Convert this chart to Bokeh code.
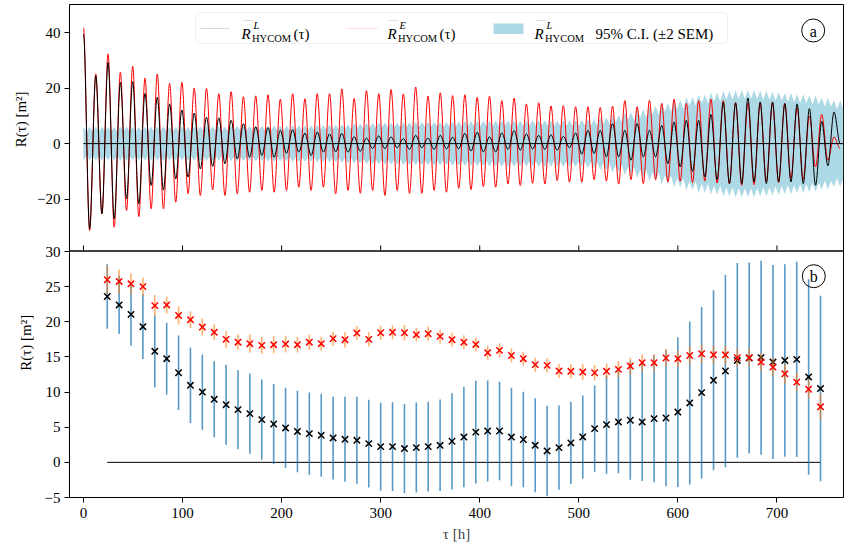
import math
import numpy as np
from bokeh.plotting import figure
from bokeh.layouts import row
from bokeh.models import (Range1d, BoxAnnotation, Label, CustomJSTickFormatter,
                          FixedTicker, Span)
from bokeh.embed import file_html
from bokeh.resources import INLINE

FONT = "Liberation Serif"

# ---------------- panel (a): extrema of the autocorrelation curves ----------------
M2_HALF = 6.21  # hours between successive extrema (half of the M2 tidal period)

red_peaks = [41.7, 25.1, 32.3, 25.7, 27.9, 23.6, 25.1, 21.7, 22.1, 20.0,
             19.9, 18.0, 18.7, 16.9, 17.2, 17.6, 16.0, 18.0, 16.2, 18.0,
             18.0, 19.7, 16.3, 19.1, 18.0, 19.5, 17.9, 20.4, 17.1, 18.3,
             17.3, 17.6, 16.7, 17.1, 15.5, 16.4, 14.3, 14.7, 13.6, 13.7,
             13.3, 13.3, 13.0, 13.5, 15.5, 13.3, 15.6, 14.5, 16.0, 14.5,
             15.5, 16.0, 15.5, 14.7, 14.6, 14.7, 14.7, 14.5, 13.0, 10.0,
             10.5, 2.4]
red_troughs = [-31.3, -25.3, -30.1, -24.1, -26.3, -23.5, -23.5, -21.1, -18.1, -18.7,
               -16.7, -18.7, -18.1, -17.5, -16.9, -17.5, -16.9, -15.7, -16.9, -15.7,
               -18.1, -16.9, -17.9, -16.9, -18.7, -16.9, -17.9, -17.9, -16.9, -17.5,
               -16.1, -16.6, -15.5, -15.7, -14.5, -15.1, -14.3, -14.5, -13.3, -13.9,
               -13.9, -13.0, -13.5, -14.6, -13.0, -14.4, -13.0, -13.8, -13.5, -14.0,
               -13.5, -14.2, -14.5, -15.0, -14.8, -13.5, -14.0, -12.5, -13.0, -8.4,
               -6.0, -1.8]
black_peaks = [39.5, 24.5, 29.2, 22.1, 22.3, 18.1, 16.7, 14.3, 12.1, 11.0,
               9.5, 9.3, 8.4, 7.2, 6.1, 5.8, 4.8, 5.0, 3.8, 4.2,
               3.5, 3.7, 2.5, 2.0, 2.8, 2.4, 1.8, 3.0, 2.0, 3.0,
               2.3, 3.7, 4.1, 2.5, 3.9, 4.7, 3.5, 3.0, 3.2, 2.6,
               3.8, 4.8, 4.8, 7.2, 4.8, 7.2, 4.8, 6.6, 7.8, 8.4,
               8.4, 10.5, 14.9, 14.7, 16.4, 15.0, 15.0, 14.4, 14.3, 12.6,
               8.0, 11.4]
black_troughs = [-30.7, -25.3, -27.1, -19.9, -21.7, -15.1, -16.7, -12.7, -12.1, -9.1,
                 -8.2, -7.3, -5.5, -4.9, -4.3, -4.9, -3.5, -3.1, -4.3, -3.1,
                 -3.0, -3.1, -2.8, -1.8, -1.8, -1.5, -2.1, -1.5, -2.1, -1.9,
                 -1.9, -2.7, -3.0, -3.0, -2.1, -2.4, -2.0, -2.1, -2.4, -1.5,
                 -3.8, -3.6, -4.8, -4.8, -6.0, -4.8, -4.8, -7.2, -8.4, -10.0,
                 -12.0, -13.0, -14.4, -14.4, -13.8, -14.4, -13.8, -13.8, -14.4, -15.0,
                 -8.0, 0.0]
# 95% C.I. half-width (+-2 SEM) at the extrema (bump) and between them (neck)
band_bump = [6.0, 6.1, 6.0, 6.2, 6.0, 6.1, 6.2, 6.0, 6.1, 6.2,
             6.3, 6.2, 6.4, 6.3, 6.4, 6.5, 6.4, 6.6, 6.5, 6.7,
             6.8, 7.0, 7.2, 7.4, 7.6, 7.6, 7.8, 7.8, 7.9, 7.8,
             8.0, 8.1, 8.2, 8.3, 8.4, 8.3, 8.4, 8.4, 8.3, 8.4,
             8.5, 8.8, 9.5, 10.3, 11.3, 12.4, 13.5, 14.6, 15.7, 16.8,
             17.7, 18.4, 19.0, 19.3, 19.3, 19.0, 18.6, 18.2, 17.8, 17.3,
             16.5, 15.5]
band_neck = [4.3, 4.4, 4.3, 4.5, 4.3, 4.4, 4.5, 4.3, 4.4, 4.5,
             4.6, 4.5, 4.7, 4.6, 4.7, 4.8, 4.7, 4.9, 4.8, 5.0,
             5.0, 5.2, 5.4, 5.6, 5.7, 5.8, 6.0, 6.0, 6.1, 6.0,
             6.1, 6.2, 6.3, 6.3, 6.4, 6.3, 6.4, 6.4, 6.3, 6.4,
             6.4, 6.6, 7.1, 7.7, 8.5, 9.4, 10.4, 11.4, 12.5, 13.6,
             14.5, 15.2, 15.8, 16.1, 16.1, 15.8, 15.4, 15.0, 14.6, 14.1,
             13.4, 12.5]

# ---------------- panel (b): binned values with error bars ----------------
lags = list(range(24, 745, 12))
black_mean = [23.6, 22.4, 21.05, 19.3, 15.8, 14.75, 12.75, 10.96, 10.0, 8.97,
              8.2, 7.5, 6.93, 6.08, 5.46, 4.9, 4.4, 4.09, 3.85, 3.47,
              3.28, 3.14, 2.67, 2.24, 2.24, 1.96, 2.1, 2.24, 2.43, 3.0,
              3.6, 4.3, 4.46, 4.46, 3.6, 3.25, 2.43, 1.62, 2.1, 2.76,
              3.62, 4.8, 5.37, 5.75, 5.99, 5.75, 6.22, 6.31, 7.16, 8.45,
              9.92, 11.67, 13.0, 14.5, 14.85, 14.9, 14.27, 14.5, 14.65, 12.15,
              10.5]
black_err = [4.6, 4.15, 4.45, 4.6, 5.1, 5.1, 5.3, 5.35, 5.35, 5.4,
             5.7, 5.65, 5.7, 5.7, 5.7, 5.7, 5.8, 5.85, 5.9, 5.9,
             6.05, 6.2, 6.25, 6.25, 6.3, 6.35, 6.4, 6.4, 6.5, 6.85,
             7.15, 7.3, 7.2, 7.0, 7.0, 6.8, 6.7, 6.45, 6.0, 5.85,
             5.9, 6.15, 7.0, 7.3, 8.45, 8.4, 9.05, 9.7, 10.65, 11.6,
             12.2, 12.8, 13.7, 13.85, 13.6, 13.8, 13.8, 13.7, 13.9, 13.9,
             13.2]
red_mean = [25.98, 25.74, 25.4, 25.0, 22.3, 22.4, 20.9, 20.3, 19.25, 18.5,
            17.5, 17.1, 16.88, 16.64, 16.74, 16.83, 16.74, 17.1, 16.88, 17.6,
            17.45, 18.4, 17.5, 18.44, 18.5, 18.44, 18.16, 18.3, 17.92, 17.45,
            17.1, 16.78, 15.6, 15.93, 15.2, 14.75, 13.9, 13.8, 13.0, 12.95,
            12.85, 12.75, 12.95, 13.23, 13.7, 14.18, 14.18, 14.85, 14.75, 15.2,
            15.45, 15.3, 15.3, 14.9, 14.9, 14.27, 13.56, 12.6, 11.42, 10.4,
            7.9]
red_err = [2.0, 1.7, 1.5, 1.3, 1.5, 1.2, 1.3, 1.2, 1.2,
           1.1, 1.2, 1.1, 1.3, 1.2, 1.2, 1.2, 1.1, 1.1,
           1.0, 1.0, 1.1, 1.0, 1.0, 1.0, 1.0, 1.1, 1.0,
           1.0, 1.0, 1.0, 1.0, 1.0, 1.0, 1.0, 1.0, 1.0,
           1.0, 1.0, 1.0, 1.0, 1.1, 1.1, 1.1, 1.2, 1.2,
           1.2, 1.2, 1.2, 1.2, 1.3, 1.3, 1.3, 1.3, 1.3,
           1.3, 1.3, 1.3, 1.4, 1.3, 1.3, 1.8]

x_ticks = [0, 100, 200, 300, 400, 500, 600, 700]
top_y_ticks = [-20, 0, 20, 40]
bot_y_ticks = [-5, 0, 5, 10, 15, 20, 25, 30]
y_title = "R(\u03c4) [m\u00b2]"
x_title = "\u03c4 [h]"

XLIM = (-14.1, 767.2)
TOP_YLIM = (-38.5, 50.1)
BOT_YLIM = (-5.0, 30.0)

# ---------------- geometry (canvas pixels) ----------------
W, H = 844, 545
TITLE_W = 34               # strip on the far left holding the two y titles
FRAME_L, FRAME_R = 69, 843
FRAME_T, FRAME_B = 4, 497
TOP_PANEL_B = 250          # bottom edge of panel (a)
BOT_PANEL_T = 251          # top edge of panel (b)
FS = "15px"


def tx(px):
    return XLIM[0] + (px - FRAME_L) * (XLIM[1] - XLIM[0]) / (FRAME_R - FRAME_L)


def ty(py):   # pixel -> panel (a) data value
    return TOP_YLIM[1] - (py - FRAME_T) * (TOP_YLIM[1] - TOP_YLIM[0]) / (TOP_PANEL_B - FRAME_T)


def by(py):   # pixel -> panel (b) data value
    return BOT_YLIM[1] - (py - BOT_PANEL_T) * (BOT_YLIM[1] - BOT_YLIM[0]) / (FRAME_B - BOT_PANEL_T)


def top_to_bot(v):  # panel (a) value -> same height on panel (b) scale (shared axis ticks)
    py = FRAME_T + (TOP_YLIM[1] - v) * (TOP_PANEL_B - FRAME_T) / (TOP_YLIM[1] - TOP_YLIM[0])
    return by(py)


# ---------------- title strip ----------------
pt = figure(width=TITLE_W, height=H, x_range=Range1d(0, TITLE_W), y_range=Range1d(H, 0),
            min_border=0, toolbar_location=None, output_backend="svg",
            background_fill_color="white", border_fill_color="white")
pt.axis.visible = False
pt.grid.visible = False
pt.outline_line_color = None
pt.add_layout(Label(x=20, y=(FRAME_T + TOP_PANEL_B) / 2, text=y_title, text_font=FONT,
                    text_font_size=FS, text_align="center", text_baseline="middle",
                    angle=math.pi / 2, text_color="black"))
pt.add_layout(Label(x=25, y=(BOT_PANEL_T + FRAME_B) / 2, text=y_title, text_font=FONT,
                    text_font_size=FS, text_align="center", text_baseline="middle",
                    angle=math.pi / 2, text_color="black"))

# ---------------- main canvas ----------------
p = figure(width=W - TITLE_W, height=H, x_range=Range1d(*XLIM),
           y_range=Range1d(by(FRAME_B), by(FRAME_T)),
           min_border_left=FRAME_L - TITLE_W, min_border_right=W - FRAME_R,
           min_border_top=FRAME_T, min_border_bottom=H - FRAME_B,
           toolbar_location=None, output_backend="svg",
           background_fill_color="white", border_fill_color="white")
p.extra_y_ranges = {"top": Range1d(ty(FRAME_B), ty(FRAME_T))}
p.grid.visible = False
p.outline_line_color = "black"
p.outline_line_width = 1
p.outline_line_alpha = 1


def fmt_num(v):
    return ("\u2212" if v < 0 else "") + str(abs(v))


tick_pos = [float(v) for v in bot_y_ticks] + [top_to_bot(v) for v in top_y_ticks]
tick_lab = [fmt_num(v) for v in bot_y_ticks] + [fmt_num(v) for v in top_y_ticks]

ya = p.yaxis[0]
ya.ticker = FixedTicker(ticks=tick_pos)
ya.formatter = CustomJSTickFormatter(args=dict(pos=tick_pos, labs=tick_lab), code="""
let best = 0; let bd = 1e9;
for (let i = 0; i < pos.length; i++) {
  const d = Math.abs(pos[i] - tick);
  if (d < bd) { bd = d; best = i; }
}
return labs[best];
""")
ya.major_tick_out = 5
ya.major_tick_in = 0
ya.minor_tick_line_color = None
ya.major_label_standoff = 4
ya.major_label_text_font = FONT
ya.major_label_text_font_size = FS
ya.major_label_text_color = "black"
ya.axis_line_color = "black"
ya.major_tick_line_color = "black"

xa = p.xaxis[0]
xa.ticker = FixedTicker(ticks=x_ticks)
xa.minor_tick_line_color = None
xa.axis_line_color = "black"
xa.major_tick_line_color = "black"
xa.major_tick_out = 5
xa.major_tick_in = 0
xa.major_label_standoff = 5
xa.major_label_text_font = FONT
xa.major_label_text_font_size = FS
xa.major_label_text_color = "black"
xa.axis_label = x_title
xa.axis_label_text_font = FONT
xa.axis_label_text_font_size = FS
xa.axis_label_text_font_style = "normal"
xa.axis_label_standoff = 5


def lab(x, y, text, size=FS, style_="normal", align="left", baseline="alphabetic", rng="top"):
    p.add_layout(Label(x=x, y=y, y_range_name=rng, text=text, text_font=FONT,
                       text_font_size=size, text_font_style=style_, text_align=align,
                       text_baseline=baseline, text_color="black"))


# ---------------- panel (a) ----------------
n = len(red_peaks)
t_ext = np.arange(2 * n) * M2_HALF
red_ext = np.column_stack([red_peaks, red_troughs]).ravel()
black_ext = np.column_stack([black_peaks, black_troughs]).ravel()

t_band = np.column_stack([t_ext, t_ext + M2_HALF / 2]).ravel()
upper = np.column_stack([np.repeat(band_bump, 2), np.repeat(band_neck, 2)]).ravel()
p.varea(x=t_band, y1=-upper, y2=upper, fill_color="#add8e6", fill_alpha=1, y_range_name="top")


def smooth_curve(t, v, color):
    x0, x1 = t[:-1], t[1:]
    y0, y1 = v[:-1], v[1:]
    d = (x1 - x0) / 3.0
    p.bezier(x0=x0, y0=y0, x1=x1, y1=y1, cx0=x0 + d, cy0=y0, cx1=x1 - d, cy1=y1,
             line_color=color, line_width=1.0, y_range_name="top")


smooth_curve(t_ext, red_ext, "red")
smooth_curve(t_ext, black_ext, "black")
p.line(x=[t_band[0], t_band[-1]], y=[0, 0], line_color="black", line_width=1.0, y_range_name="top")

# separator between the panels and panel (a)'s inner x ticks
p.add_layout(Span(location=by((TOP_PANEL_B + BOT_PANEL_T) / 2), dimension="width",
                  line_color="black", line_width=1.6))
p.segment(x0=x_ticks, x1=x_ticks, y0=[ty(TOP_PANEL_B)] * len(x_ticks),
          y1=[ty(TOP_PANEL_B - 5)] * len(x_ticks), line_color="black", line_width=1,
          y_range_name="top")

# legend (hand-built to mimic the LaTeX labels)
p.add_layout(BoxAnnotation(left=tx(195), right=tx(727), top=ty(12), bottom=ty(43),
                           y_range_name="top", fill_color="white", fill_alpha=0.85,
                           line_color="#cccccc", line_width=1, border_radius=4))
p.line(x=[tx(200), tx(229)], y=[ty(28), ty(28)], line_color="black", line_width=1.2, y_range_name="top")
p.line(x=[tx(347), tx(377)], y=[ty(28), ty(28)], line_color="red", line_width=1.2, y_range_name="top")
p.add_layout(BoxAnnotation(left=tx(493), right=tx(523), top=ty(23), bottom=ty(33.5),
                           y_range_name="top", fill_color="#add8e6", fill_alpha=1, line_color=None))


def rbar_label(x0, sup):
    lab(tx(x0), ty(33), "R", style_="italic")
    p.line(x=[tx(x0 + 1.5), tx(x0 + 11)], y=[ty(20), ty(20)], line_color="black",
           line_width=0.8, y_range_name="top")
    lab(tx(x0 + 12), ty(24.5), sup, size="10.5px", style_="italic")
    lab(tx(x0 + 10.5), ty(37.5), "HYCOM", size="10.5px")


rbar_label(241, "L")
lab(tx(293), ty(33), "(\u03c4)")
rbar_label(387, "E")
lab(tx(439), ty(33), "(\u03c4)")
rbar_label(534, "L")
lab(tx(595), ty(33), "95% C.I. (\u00b12 SEM)")

p.scatter(x=[tx(812.7)], y=[ty(30)], marker="circle", size=23, fill_color=None,
          line_color="black", line_width=1, y_range_name="top")
lab(tx(812.7), ty(30.5), "a", size="16px", align="center", baseline="middle")

# ---------------- panel (b) ----------------
bm = np.array(black_mean)
be = np.array(black_err)
rm = np.array(red_mean)
re_ = np.array(red_err)

p.line(x=[lags[0], lags[-1]], y=[0, 0], line_color="black", line_width=1.0)
p.segment(x0=lags, y0=bm - be, x1=lags, y1=bm + be, line_color="#1f77b4",
          line_width=1.6, line_alpha=0.75)
p.scatter(x=lags, y=black_mean, marker="x", size=9, line_color="black", line_width=1.5)
p.segment(x0=lags, y0=rm - re_, x1=lags, y1=rm + re_, line_color="#ff7f0e",
          line_width=1.6, line_alpha=0.6)
p.scatter(x=lags, y=red_mean, marker="x", size=9, line_color="red", line_width=1.5)

p.scatter(x=[tx(813.3)], y=[by(275.7)], marker="circle", size=23, fill_color=None,
          line_color="black", line_width=1)
lab(tx(813.3), by(276.2), "b", size="16px", align="center", baseline="middle", rng="default")

layout = row(pt, p, spacing=0)
open("out.html", "w").write(file_html(layout, INLINE))
